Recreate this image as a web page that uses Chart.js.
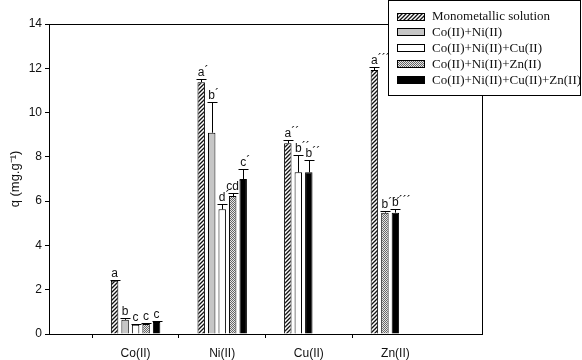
<!DOCTYPE html>
<html>
<head>
<meta charset="utf-8">
<script src="https://cdn.jsdelivr.net/npm/chart.js@4"></script>
<style>
  html, body { margin: 0; padding: 0; background: #fff; }
  #wrap { width: 582px; height: 360px; }
</style>
</head>
<body>
<div id="wrap"><canvas id="qChart" width="582" height="360"></canvas></div>
<script>
// categories and series
var categories = ['Co(II)', 'Ni(II)', 'Cu(II)', 'Zn(II)'];
var seriesNames = ['Monometallic solution', 'Co(II)+Ni(II)', 'Co(II)+Ni(II)+Cu(II)',
                   'Co(II)+Ni(II)+Zn(II)', 'Co(II)+Ni(II)+Cu(II)+Zn(II)'];
var mono     = [2.41, 11.37, 8.61, 11.92];
var coNi     = [0.64, 9.09, null, null];
var coNiCu   = [0.42, 5.63, 7.30, null];
var coNiZn   = [0.45, 6.23, null, 5.48];
var coNiCuZn = [0.54, 7.00, 7.30, 5.48];
var errMono     = [0.05, 0.15, 0.15, 0.14];
var errCoNi     = [0.08, 1.40, null, null];
var errCoNiCu   = [0.04, 0.24, 0.77, null];
var errCoNiZn   = [0.04, 0.15, null, 0.09];
var errCoNiCuZn = [0.04, 0.45, 0.55, 0.18];
var letMono     = ['a', 'a´', 'a´´', 'a´´´'];
var letCoNi     = ['b', 'b´', null, null];
var letCoNiCu   = ['c', 'd´', 'b´´', null];
var letCoNiZn   = ['c', 'cd´', null, 'b´´´'];
var letCoNiCuZn = ['c', 'c´', 'b´´', 'b´´´'];
var yTicks = [0, 2, 4, 6, 8, 10, 12, 14];

function makePattern(kind) {
  var c = document.createElement('canvas');
  var x = c.getContext('2d');
  if (kind === 'hatch') {
    c.width = 4; c.height = 4;
    x.fillStyle = '#fff'; x.fillRect(0, 0, 4, 4);
    x.strokeStyle = '#111'; x.lineWidth = 1.3;
    x.beginPath();
    x.moveTo(-1, 5); x.lineTo(5, -1);
    x.moveTo(-1, 1); x.lineTo(1, -1);
    x.moveTo(3, 5); x.lineTo(5, 3);
    x.stroke();
  } else {
    c.width = 2; c.height = 2;
    x.fillStyle = '#e6e6e6'; x.fillRect(0, 0, 2, 2);
    x.fillStyle = '#666';
    x.fillRect(0, 0, 1, 1); x.fillRect(1, 1, 1, 1);
  }
  return document.getElementById('qChart').getContext('2d').createPattern(c, 'repeat');
}

var fills = [makePattern('hatch'), '#c6c6c6', '#ffffff', makePattern('check'), '#000000'];
var allValues = [mono, coNi, coNiCu, coNiZn, coNiCuZn];
var allErrs = [errMono, errCoNi, errCoNiCu, errCoNiZn, errCoNiCuZn];
var allLetters = [letMono, letCoNi, letCoNiCu, letCoNiZn, letCoNiCuZn];

// pack the present series of each metal into adjacent slots, as in the figure
var labels = [''].concat(categories).concat(['']);
var slots = [];
for (var k = 0; k < 5; k++) {
  slots.push({ data: [null], bg: ['#fff'], err: [null], letters: [null] });
}
categories.forEach(function (cat, ci) {
  var k = 0;
  allValues.forEach(function (vals, si) {
    if (vals[ci] != null) {
      slots[k].data.push(vals[ci]);
      slots[k].bg.push(fills[si]);
      slots[k].err.push(allErrs[si][ci]);
      slots[k].letters.push(allLetters[si][ci]);
      k++;
    }
  });
  for (; k < 5; k++) {
    slots[k].data.push(null); slots[k].bg.push('#fff');
    slots[k].err.push(null); slots[k].letters.push(null);
  }
});
slots.forEach(function (s) { s.data.push(null); s.bg.push('#fff'); s.err.push(null); s.letters.push(null); });

var datasets = slots.map(function (s, i) {
  return {
    label: 'slot' + i,
    data: s.data,
    backgroundColor: s.bg,
    borderColor: '#000',
    borderWidth: 1,
    errors: s.err,
    letters: s.letters
  };
});

var errorBars = {
  id: 'errorBars',
  afterDatasetsDraw: function (chart) {
    var ctx = chart.ctx, y = chart.scales.y;
    ctx.save();
    ctx.strokeStyle = '#000';
    ctx.lineWidth = 1;
    ctx.fillStyle = '#111';
    ctx.font = '12px "Liberation Sans", Arial, sans-serif';
    chart.data.datasets.forEach(function (ds, di) {
      var meta = chart.getDatasetMeta(di);
      meta.data.forEach(function (bar, i) {
        var v = ds.data[i];
        if (v == null) return;
        var top = y.getPixelForValue(v + (ds.errors[i] || 0));
        var x = Math.round(bar.x) + 0.5;
        ctx.beginPath();
        ctx.moveTo(x, bar.y);
        ctx.lineTo(x, Math.round(top) + 0.5);
        ctx.moveTo(x - 5, Math.round(top) + 0.5);
        ctx.lineTo(x + 5, Math.round(top) + 0.5);
        ctx.stroke();
        var txt = ds.letters[i];
        if (txt) {
          var base = txt.replace(/´/g, '');
          var primes = txt.slice(base.length);
          var w = ctx.measureText(base).width;
          var tx = bar.x - w / 2;
          ctx.textAlign = 'left';
          ctx.textBaseline = 'alphabetic';
          ctx.fillText(base, tx, top - 3);
          if (primes) ctx.fillText(primes, tx + w, top - 4);
        }
      });
    });
    ctx.restore();
  }
};

var frameAndLegend = {
  id: 'frameAndLegend',
  afterDraw: function (chart) {
    var ctx = chart.ctx, a = chart.chartArea;
    ctx.save();
    ctx.strokeStyle = '#000';
    ctx.lineWidth = 1;
    ctx.beginPath();
    ctx.moveTo(a.left, Math.round(a.top) + 0.5);
    ctx.lineTo(Math.round(a.right) + 0.5, Math.round(a.top) + 0.5);
    ctx.lineTo(Math.round(a.right) + 0.5, a.bottom);
    ctx.stroke();
    // legend box
    ctx.fillStyle = '#fff';
    ctx.fillRect(388.5, 0.5, 192, 95);
    ctx.strokeRect(388.5, 0.5, 192, 95);
    ctx.font = '13px "Liberation Serif", "Times New Roman", serif';
    ctx.textBaseline = 'middle';
    ctx.textAlign = 'left';
    seriesNames.forEach(function (name, i) {
      var cy = 16.5 + i * 15.9;
      ctx.fillStyle = fills[i];
      ctx.fillRect(397.5, Math.round(cy - 4) + 0.5, 27, 7);
      ctx.strokeRect(397.5, Math.round(cy - 4) + 0.5, 27, 7);
      ctx.fillStyle = '#111';
      ctx.fillText(name, 432, cy);
    });
    ctx.restore();
  }
};

new Chart(document.getElementById('qChart').getContext('2d'), {
  type: 'bar',
  data: { labels: labels, datasets: datasets },
  options: {
    responsive: false,
    animation: false,
    layout: { padding: { left: 0, right: 100, top: 24, bottom: 0 } },
    categoryPercentage: 0.606,
    barPercentage: 0.71,
    plugins: {
      legend: { display: false },
      tooltip: { enabled: false }
    },
    scales: {
      x: {
        offset: false,
        afterFit: function (s) { s.height = 26; },
        border: { display: true, color: '#000', width: 1 },
        grid: {
          drawOnChartArea: false,
          tickLength: 4,
          color: function (c) { return (c.index === 0 || c.index === 5) ? 'rgba(0,0,0,0)' : '#000'; }
        },
        ticks: {
          padding: 8,
          color: '#111',
          maxRotation: 0,
          font: { family: '"Liberation Sans", Arial, sans-serif', size: 12 }
        }
      },
      y: {
        min: 0,
        max: 14,
        afterFit: function (s) { s.width = 49; },
        afterBuildTicks: function (s) { s.ticks = yTicks.map(function (v) { return { value: v }; }); },
        border: { display: true, color: '#000', width: 1 },
        grid: { drawOnChartArea: false, tickLength: 4, color: '#000' },
        ticks: {
          padding: 3,
          color: '#111',
          font: { family: '"Liberation Sans", Arial, sans-serif', size: 12 }
        },
        title: {
          display: true,
          text: 'q (mg.g⁻¹)',
          color: '#111',
          padding: { top: 8, bottom: 0 },
          font: { family: '"Liberation Sans", Arial, sans-serif', size: 13 }
        }
      }
    }
  },
  plugins: [errorBars, frameAndLegend]
});
</script>
</body>
</html>
